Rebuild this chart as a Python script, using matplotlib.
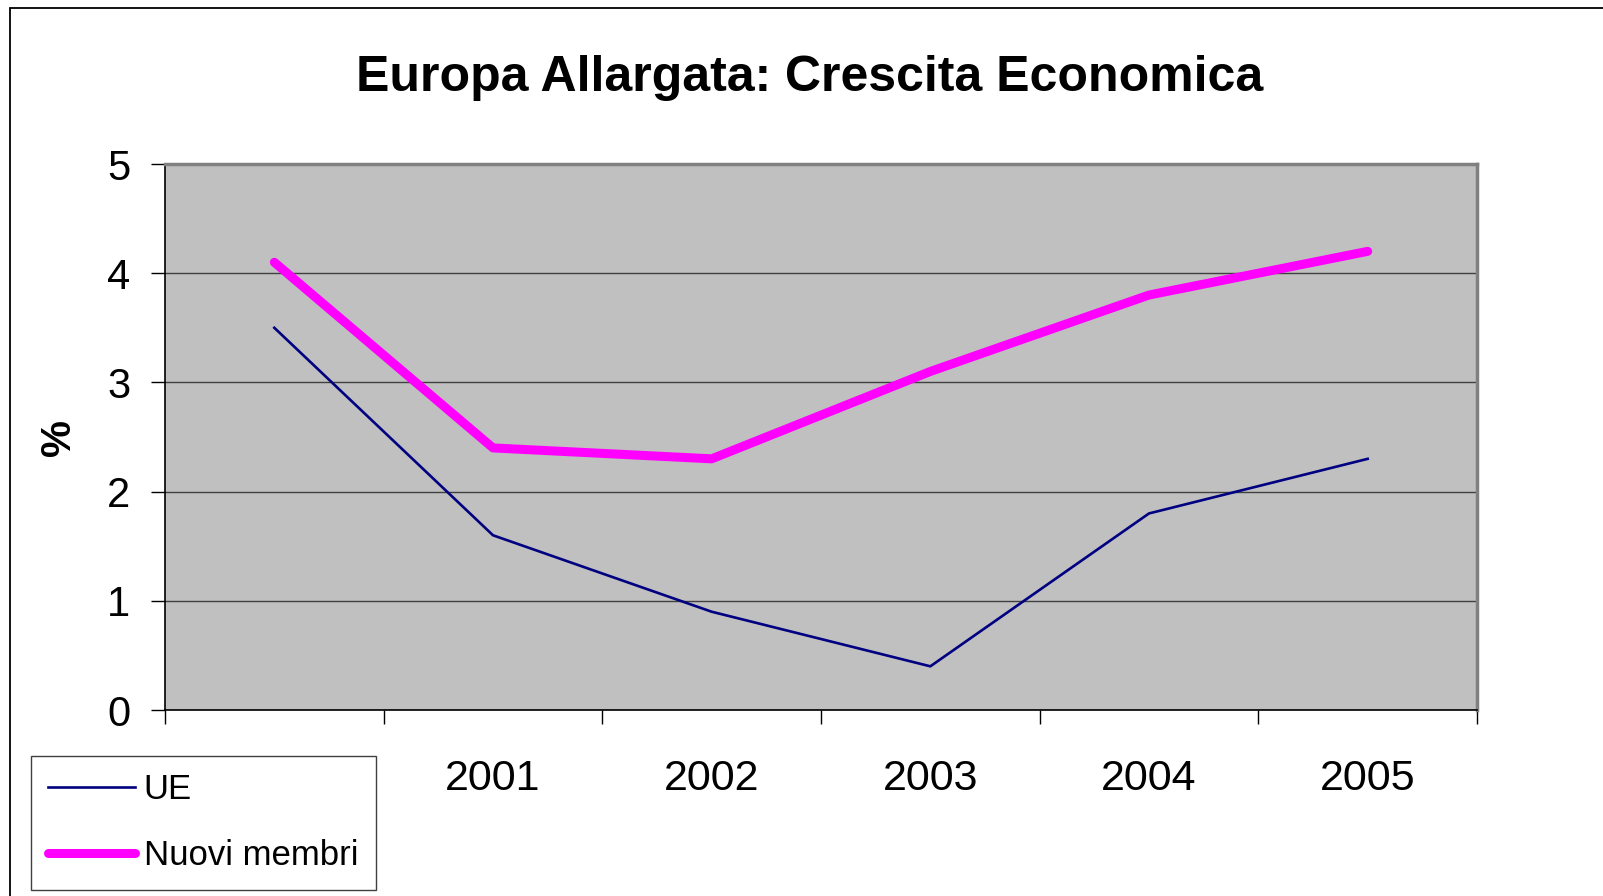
import matplotlib.pyplot as plt
from matplotlib.patches import Rectangle
from matplotlib.ticker import FixedLocator

plt.rcParams['font.family'] = ['Liberation Sans', 'DejaVu Sans']

years = ['2000', '2001', '2002', '2003', '2004', '2005']
ue = [3.5, 1.6, 0.9, 0.4, 1.8, 2.3]
nuovi_membri = [4.1, 2.4, 2.3, 3.1, 3.8, 4.2]

W, H = 1603, 896
fig = plt.figure(figsize=(W / 100, H / 100), dpi=100)
ax = fig.add_axes([165 / W, 1 - 710 / H, (1477 - 165) / W, (710 - 164) / H])

# outer chart frame (runs off right and bottom edges)
fig.patches.append(Rectangle((10 / W, -0.2), 1.5, 1.2 - 8 / H, transform=fig.transFigure,
                             fill=False, edgecolor='black', linewidth=1.3, zorder=0))

x = list(range(len(years)))
ax.set_facecolor('#c0c0c0')
ax.plot(x, ue, color='#000080', linewidth=1.9, label='UE', zorder=3)
ax.plot(x, nuovi_membri, color='#ff00ff', linewidth=6.5, solid_capstyle='round',
        solid_joinstyle='round', label='Nuovi membri', zorder=3)

ax.set_xlim(-0.5, len(years) - 0.5)
ax.set_ylim(0, 5)
ax.set_yticks(range(6))
ax.yaxis.grid(True, color='#404040', linewidth=1.0)
ax.set_axisbelow(True)

ax.xaxis.set_major_locator(FixedLocator([i - 0.5 for i in range(len(years) + 1)]))
ax.xaxis.set_major_formatter(plt.NullFormatter())
ax.xaxis.set_minor_locator(FixedLocator(x))
ax.set_xticklabels(years, minor=True)
ax.tick_params(axis='x', which='major', length=10, width=1, color='black', direction='out')
ax.tick_params(axis='x', which='minor', length=0, pad=35, labelsize=31)
ax.tick_params(axis='y', length=10, width=1, color='black', pad=15, labelsize=30)

for side in ['left', 'bottom']:
    ax.spines[side].set_color('black')
    ax.spines[side].set_linewidth(1.2)
for side in ['top', 'right']:
    ax.spines[side].set_color('#808080')
    ax.spines[side].set_linewidth(2.5)

ax.set_ylabel('%', fontsize=30, fontweight='bold', labelpad=20)
fig.text(810 / W, 1 - 78 / H, 'Europa Allargata: Crescita Economica', fontsize=36,
         fontweight='bold', ha='center', va='center')

leg = fig.legend(loc='upper left', bbox_to_anchor=(31 / W, 1 - 756 / H), fontsize=25,
                 frameon=True, fancybox=False, edgecolor='#404040', framealpha=1,
                 handlelength=2.5, handletextpad=0.25, labelspacing=0.95,
                 borderpad=0.5, borderaxespad=0)
leg.get_frame().set_linewidth(1.0)

fig.savefig('out.png', dpi=100, facecolor='white')
